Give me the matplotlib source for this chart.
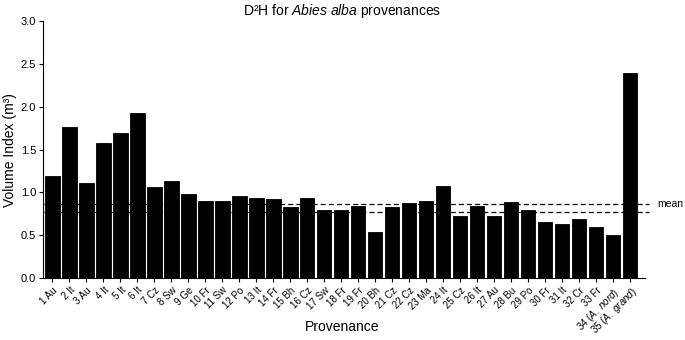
import matplotlib
matplotlib.use("Agg")
import matplotlib.pyplot as plt

plt.rcParams['font.family'] = ['Liberation Sans', 'DejaVu Sans']
plt.rcParams['mathtext.fontset'] = 'custom'
plt.rcParams['mathtext.rm'] = 'Liberation Sans'
plt.rcParams['mathtext.it'] = 'Liberation Sans:italic'

labels = ['1 Au', '2 It', '3 Au', '4 It', '5 It', '6 It', '7 Cz', '8 Sw', '9 Ge',
          '10 Fr', '11 Sw', '12 Po', '13 It', '14 Fr', '15 Bh', '16 Cz', '17 Sw',
          '18 Fr', '19 Fr', '20 Bh', '21 Cz', '22 Cz', '23 Ma', '24 It', '25 Cz',
          '26 It', '27 Au', '28 Bu', '29 Po', '30 Fr', '31 It', '32 Cr', '33 Fr',
          r'34 ($\mathit{A.\ nord}$)', r'35 ($\mathit{A.\ grand}$)']
values = [1.19, 1.76, 1.11, 1.58, 1.69, 1.93, 1.06, 1.13, 0.98,
          0.90, 0.90, 0.96, 0.94, 0.925, 0.83, 0.94, 0.79,
          0.80, 0.84, 0.54, 0.83, 0.88, 0.90, 1.08, 0.72,
          0.84, 0.73, 0.89, 0.80, 0.66, 0.63, 0.69, 0.60,
          0.50, 2.39]
mean_lines = [0.865, 0.775]

fig = plt.figure(figsize=(6.85, 3.4), dpi=100)
ax = fig.add_axes([0.063, 0.182, 0.879, 0.756])

x = list(range(len(values)))
ax.bar(x, values, width=0.85, color='black', edgecolor='black', linewidth=0.6, zorder=3)

# dashed reference lines, drawn behind the bars
for m in mean_lines:
    ax.plot([-0.5, 35.1], [m, m], color='black', linestyle=(0, (4, 2.5)),
            linewidth=0.9, zorder=1, clip_on=False)
ax.text(35.6, mean_lines[0], 'mean', fontsize=7.5, va='center', ha='left')

ax.set_xlim(-0.55, 34.9)
ax.set_ylim(0, 3.0)
ax.set_yticks([0, 0.5, 1.0, 1.5, 2.0, 2.5, 3.0])
ax.set_yticklabels(['0.0', '0.5', '1.0', '1.5', '2.0', '2.5', '3.0'], fontsize=8)
ax.set_xticks(x)
ax.set_xticklabels(labels, rotation=45, ha='right', rotation_mode='anchor', fontsize=7)
ax.tick_params(axis='both', direction='out', length=3, width=0.8, pad=2)

ax.spines['top'].set_visible(False)
ax.spines['right'].set_visible(False)

ax.set_ylabel('Volume Index (m³)', fontsize=10, labelpad=3)
fig.text(0.5, 1 - 327 / 340, 'Provenance', fontsize=10, ha='center', va='center')
fig.text(0.5, 1 - 11 / 340, r'D²H for $\mathit{Abies\ alba}$ provenances',
         fontsize=10, ha='center', va='center')

fig.savefig('out.png', dpi=100)
